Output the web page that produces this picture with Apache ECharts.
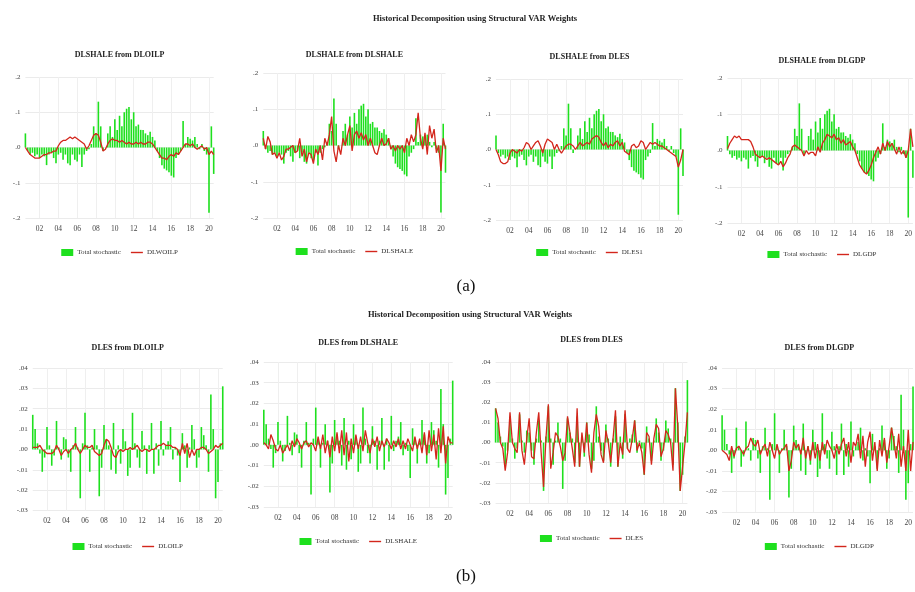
<!DOCTYPE html>
<html>
<head>
<meta charset="utf-8">
<script src="https://cdn.jsdelivr.net/npm/echarts/dist/echarts.min.js"></script>
<style>
html, body { margin: 0; padding: 0; background: #fff; }
#chart { width: 915px; height: 592px; }
</style>
</head>
<body>
<div id="chart"></div>
<script>
// quarterly observations 2000Q3 .. 2020Q3
var quarters = []
for (var k = 0; k < 81; k++) {
  var t = 2000 * 4 + 2 + k
  quarters.push(Math.floor(t / 4) + 'Q' + (t % 4 + 1))
}

// (a) DLSHALE : total stochastic and contributions
var stochA = [
  0.04, -0.01, -0.02, -0.015, -0.025, -0.02, -0.03, -0.02, -0.025, -0.05,
  -0.02, -0.015, -0.03, -0.045, -0.02, -0.015, -0.035, -0.02, -0.045, -0.05,
  -0.02, -0.035, -0.04, -0.02, -0.055, -0.02, -0.01, -0.005, 0.01, 0.06,
  0.04, 0.13, 0.06, -0.01, 0.0, 0.04, 0.06, 0.03, 0.08, 0.05,
  0.09, 0.06, 0.10, 0.11, 0.115, 0.08, 0.10, 0.06, 0.065, 0.05,
  0.05, 0.04, 0.035, 0.045, 0.03, 0.02, -0.01, -0.03, -0.05, -0.06,
  -0.065, -0.07, -0.08, -0.085, -0.03, -0.02, -0.01, 0.075, 0.01, 0.03,
  0.025, 0.02, 0.03, 0.01, -0.005, 0.01, -0.01, -0.02, -0.185, 0.06,
  -0.075
]
var oilA = [
  0.0, -0.01, -0.02, -0.025, -0.03, -0.03, -0.03, -0.025, -0.02, -0.02,
  -0.015, -0.015, -0.01, -0.01, 0.005, 0.015, 0.02, 0.02, 0.025, 0.03,
  0.025, 0.03, 0.025, 0.02, 0.015, 0.01, -0.005, 0.005, 0.02, 0.035,
  0.04, 0.035, 0.015, -0.01, -0.005, 0.01, 0.02, 0.025, 0.02, 0.02,
  0.015, 0.02, 0.015, 0.01, 0.015, 0.01, 0.01, 0.015, 0.01, 0.015,
  0.01, 0.01, 0.015, 0.015, 0.01, 0.0, -0.01, -0.02, -0.03, -0.03,
  -0.035, -0.025, -0.02, -0.025, -0.015, -0.02, -0.01, 0.0, 0.01, 0.01,
  0.005, 0.01, 0.0, -0.005, 0.0, 0.005, -0.005, 0.0, -0.02, -0.01,
  -0.02
]
var shaleA = [
  0.02, -0.01, 0.025, 0.01, -0.025, -0.02, -0.035, -0.02, -0.04, -0.03,
  -0.01, -0.01, -0.005, 0.0, -0.02, -0.015, 0.02, -0.03, -0.01, -0.045,
  -0.02, -0.025, -0.05, -0.01, -0.025, 0.0, -0.04, 0.02, 0.0, 0.03,
  0.08, -0.015, -0.045, 0.0, -0.025, 0.02, 0.0, 0.03, 0.055, -0.015,
  0.03, 0.04, 0.02, 0.035, 0.015, 0.03, 0.0, 0.02, 0.0, -0.02,
  -0.025, 0.0, 0.02, 0.0, 0.005, 0.02, -0.01, 0.0, -0.015, 0.0,
  -0.01, 0.0, -0.02, 0.02, 0.0, 0.03, 0.01, 0.03, 0.09, 0.02,
  -0.01, 0.035, -0.025, 0.055, 0.02, 0.045, -0.02, 0.0, -0.07, 0.02,
  -0.01
]
var esA = [
  0.0, -0.015, -0.035, -0.04, -0.04, -0.035, -0.01, 0.0, -0.005, -0.01,
  0.0, -0.005, 0.005, 0.02, 0.015, 0.0, 0.01, 0.02, 0.025, 0.01,
  -0.01, 0.015, 0.03, 0.025, 0.02, 0.0, 0.015, 0.0, -0.01, 0.0,
  0.01, 0.015, 0.015, 0.01, 0.0, 0.01, 0.02, 0.01, 0.015, 0.02,
  0.015, 0.03, 0.035, 0.04, 0.035, 0.02, 0.01, 0.02, 0.005, 0.015,
  0.01, 0.02, 0.025, 0.01, 0.02, -0.005, -0.01, -0.015, 0.01, 0.015,
  0.005, 0.01, 0.025, 0.02, 0.0, 0.01, 0.02, 0.015, 0.02, 0.015,
  0.01, 0.01, 0.005, 0.0, -0.005, -0.01, -0.015, -0.02, -0.05, -0.03,
  0.0
]
var gdpA = [
  0.005, 0.02, 0.03, 0.04, 0.035, 0.04, 0.03, 0.03, 0.03, 0.03,
  0.025, 0.01, -0.01, -0.015, -0.02, -0.015, -0.02, -0.025, -0.02, -0.025,
  -0.03, -0.035, -0.04, -0.03, -0.045, -0.035, -0.02, -0.01, 0.01, 0.015,
  0.01, 0.005, 0.0, -0.015, 0.0, -0.01, -0.005, -0.005, -0.015, 0.01,
  -0.005, 0.02, 0.03, 0.045, 0.04, 0.035, 0.045, 0.03, 0.035, 0.02,
  0.03, 0.015, 0.02, 0.025, 0.01, 0.0, -0.02, -0.04, -0.05, -0.06,
  -0.065, -0.055, -0.04, -0.02, -0.005, 0.01, -0.01, 0.02, 0.0, 0.025,
  0.01, 0.02, 0.005, -0.01, 0.01, -0.01, 0.0, -0.02, 0.0, 0.06,
  0.01
]

// (b) DLES : total stochastic and contributions
var stochB = [
  0.017, 0.01, 0.003, -0.002, -0.011, -0.004, 0.011, 0.002, -0.008, -0.003,
  0.014, 0.001, -0.005, 0.006, 0.005, -0.004, -0.011, 0.002, 0.011, 0.001,
  -0.024, 0.003, 0.018, 0.002, -0.011, 0.001, 0.01, 0.002, -0.023, -0.009,
  0.012, 0.005, 0.002, -0.01, 0.013, -0.012, 0.002, -0.007, 0.01, 0.004,
  -0.013, -0.009, 0.018, 0.003, -0.004, -0.009, 0.009, 0.002, -0.012, 0.002,
  0.013, -0.012, 0.003, -0.008, 0.014, -0.003, 0.002, 0.004, 0.011, -0.005,
  0.001, -0.003, -0.016, 0.008, 0.002, -0.009, 0.001, 0.012, 0.005, -0.009,
  -0.004, 0.011, 0.007, 0.002, -0.011, 0.027, 0.01, -0.024, -0.016, 0.003,
  0.031
]
var oilB = [
  0.001, 0.001, 0.001, 0.002, 0.0, -0.001, -0.002, -0.002, -0.002, -0.001,
  0.002, 0.0, -0.003, -0.001, 0.0, -0.002, 0.0, 0.001, 0.003, 0.0,
  -0.002, 0.0, 0.002, 0.001, 0.001, 0.002, -0.001, -0.002, -0.003, -0.002,
  0.002, 0.005, 0.004, 0.001, -0.003, -0.004, -0.001, 0.0, -0.001, 0.0,
  0.0, 0.001, 0.0, 0.001, 0.002, 0.0, -0.001, 0.0, 0.0, -0.001,
  0.0, 0.0, 0.001, 0.002, 0.002, 0.003, 0.002, 0.002, 0.002, 0.001,
  0.001, 0.0, -0.003, 0.003, -0.002, 0.003, -0.004, 0.0, -0.003, 0.0,
  0.0, 0.001, 0.001, 0.0, -0.002, -0.001, 0.0, 0.002, 0.001, 0.002,
  0.003
]
var shaleB = [
  0.001, 0.0, -0.002, 0.005, 0.002, -0.002, -0.003, 0.0, -0.004, -0.002,
  0.0, -0.003, 0.002, -0.001, 0.003, 0.001, -0.002, 0.001, 0.002, -0.001,
  0.001, 0.0, -0.003, 0.004, -0.002, 0.005, -0.004, 0.002, -0.006, 0.004,
  -0.003, 0.006, -0.004, 0.007, -0.005, 0.006, -0.008, 0.003, -0.004, 0.005,
  -0.002, 0.004, -0.003, 0.007, 0.001, -0.004, 0.003, -0.001, 0.004, -0.003,
  0.002, -0.001, 0.003, 0.001, -0.002, 0.002, -0.001, 0.003, -0.002, 0.002,
  -0.002, 0.003, 0.0, -0.003, 0.004, -0.002, 0.003, -0.004, 0.006, -0.005,
  0.007, -0.003, 0.005, -0.007, 0.008, -0.004, 0.009, -0.009, 0.004, 0.001,
  0.001
]
var esB = [
  0.017, 0.012, 0.0, -0.003, -0.014, -0.005, 0.015, 0.0, -0.003, -0.005,
  0.015, -0.004, -0.011, 0.002, 0.012, -0.007, -0.008, 0.005, 0.015, -0.005,
  -0.022, 0.002, 0.019, -0.013, -0.005, 0.005, 0.003, -0.002, -0.009, -0.005,
  0.013, 0.005, -0.003, -0.012, 0.017, -0.012, 0.005, -0.005, 0.01, -0.006,
  -0.015, 0.005, 0.014, 0.008, -0.006, -0.01, 0.006, 0.0, -0.01, 0.002,
  0.016, -0.012, 0.0, -0.006, 0.016, -0.003, -0.005, 0.002, 0.011, -0.004,
  0.0, -0.005, -0.016, 0.005, 0.003, -0.011, 0.002, 0.009, 0.007, -0.007,
  -0.003, 0.006, 0.004, 0.0, -0.014, 0.027, 0.008, -0.024, -0.012, 0.0,
  0.015
]
var gdpB = [
  0.0, -0.001, -0.002, -0.005, 0.002, -0.003, 0.001, 0.002, 0.0, -0.002,
  0.001, 0.002, 0.006, 0.003, 0.002, 0.005, -0.002, 0.001, 0.003, -0.003,
  0.004, 0.0, -0.004, 0.003, -0.002, 0.0, 0.001, 0.003, -0.01, -0.005,
  0.004, 0.001, 0.003, -0.002, 0.006, -0.004, 0.002, -0.005, 0.004, -0.004,
  0.003, -0.005, 0.004, -0.002, 0.005, 0.002, 0.0, -0.004, 0.003, -0.002,
  0.003, 0.006, -0.003, 0.004, -0.006, 0.004, 0.002, 0.008, -0.004, 0.007,
  -0.008, 0.004, 0.009, -0.005, 0.004, -0.01, 0.005, -0.003, 0.006, -0.006,
  0.002, 0.011, 0.004, -0.004, 0.008, -0.008, 0.002, -0.01, 0.01, -0.01,
  0.004
]

var yTicksA = [-0.2, -0.1, 0, 0.1, 0.2]
var yTicksB = [-0.03, -0.02, -0.01, 0, 0.01, 0.02, 0.03, 0.04]

var SERIF = '"Liberation Serif", "DejaVu Serif", serif'
var GREEN = '#1ee01e'
var RED = '#d3261c'

// panel layout: [left, top, width, height], title y, legend y
var panels = [
  { title: 'DLSHALE from DLOILP', name: 'DLWOILP', bars: stochA, line: oilA, row: 'a', box: [25.4, 77, 188.3, 141], ty: 55, ly: 253 },
  { title: 'DLSHALE from DLSHALE', name: 'DLSHALE', bars: stochA, line: shaleA, row: 'a', box: [263.3, 73, 182.2, 145], ty: 55, ly: 252 },
  { title: 'DLSHALE from DLES', name: 'DLES1', bars: stochA, line: esA, row: 'a', box: [496, 79, 187, 141], ty: 57, ly: 253 },
  { title: 'DLSHALE from DLGDP', name: 'DLGDP', bars: stochA, line: gdpA, row: 'a', box: [727.5, 78, 188.8, 145], ty: 61, ly: 255 },
  { title: 'DLES from DLOILP', name: 'DLOILP', bars: stochB, line: oilB, row: 'b', box: [32.75, 368, 190, 142.5], ty: 348, ly: 547 },
  { title: 'DLES from DLSHALE', name: 'DLSHALE', bars: stochB, line: shaleB, row: 'b', box: [263.8, 362, 188.9, 145], ty: 343, ly: 542 },
  { title: 'DLES from DLES', name: 'DLES', bars: stochB, line: esB, row: 'b', box: [495.6, 362, 191.8, 141], ty: 340, ly: 539 },
  { title: 'DLES from DLGDP', name: 'DLGDP', bars: stochB, line: gdpB, row: 'b', box: [722.1, 368, 194.4, 144], ty: 348, ly: 547 }
]

var measure = document.createElement('canvas').getContext('2d')
measure.font = '7px ' + SERIF
function textW(s) { return measure.measureText(s).width }

function yearTick(idx, val) {
  var y = +val.slice(0, 4)
  return val.slice(4) === 'Q1' && y % 2 === 0
}
function fmtY(dec) {
  return function (v) {
    if (Math.abs(v) < 1e-9) v = 0
    return v.toFixed(dec).replace(/^(-?)0\./, '$1.')
  }
}

var option = {
  animation: false,
  backgroundColor: '#fff',
  title: [
    { text: 'Historical Decomposition using Structural VAR Weights', left: 475, top: 14, textAlign: 'center', padding: 0,
      textStyle: { fontFamily: SERIF, fontSize: 8.5, fontWeight: 'bold', color: '#222' } },
    { text: 'Historical Decomposition using Structural VAR Weights', left: 470, top: 310, textAlign: 'center', padding: 0,
      textStyle: { fontFamily: SERIF, fontSize: 8.5, fontWeight: 'bold', color: '#222' } },
    { text: '(a)', left: 466, top: 278, textAlign: 'center', padding: 0,
      textStyle: { fontFamily: SERIF, fontSize: 17, fontWeight: 'normal', color: '#111' } },
    { text: '(b)', left: 466, top: 568, textAlign: 'center', padding: 0,
      textStyle: { fontFamily: SERIF, fontSize: 17, fontWeight: 'normal', color: '#111' } }
  ],
  legend: [],
  grid: [],
  xAxis: [],
  yAxis: [],
  series: []
}

panels.forEach(function (p, i) {
  var b = p.box
  var cx = b[0] + b[2] / 2
  var isA = p.row === 'a'
  var ticks = isA ? yTicksA : yTicksB

  option.title.push({
    text: p.title, left: cx, top: p.ty - 4.5, textAlign: 'center', padding: 0,
    textStyle: { fontFamily: SERIF, fontSize: 8, fontWeight: 'bold', color: '#222' }
  })

  var lw = 12 + 4 + textW('Total stochastic') + 10 + 12 + 4 + textW(p.name)
  option.legend.push({
    left: cx - lw / 2, top: p.ly - 4, padding: 0, itemGap: 10,
    itemWidth: 12, itemHeight: 7, selectedMode: false,
    data: [
      { name: 'Total stochastic', icon: 'rect' },
      { name: p.name, icon: 'path://M0,0h12v1.4h-12z' }
    ],
    textStyle: { fontFamily: SERIF, fontSize: 7, color: '#333', padding: [0, 0, 0, -1] }
  })

  option.grid.push({ left: b[0], top: b[1], width: b[2], height: b[3], containLabel: false })

  option.xAxis.push({
    type: 'category', gridIndex: i, data: quarters, boundaryGap: false,
    axisLine: { show: false }, axisTick: { show: false },
    axisLabel: {
      interval: yearTick, margin: 7,
      formatter: function (v) { return v.slice(2, 4) },
      fontFamily: SERIF, fontSize: 7.5, color: '#444'
    },
    splitLine: { show: true, interval: yearTick, lineStyle: { color: '#efefef', width: 1 } }
  })

  option.yAxis.push({
    type: 'value', gridIndex: i,
    min: ticks[0], max: ticks[ticks.length - 1], interval: isA ? 0.1 : 0.01,
    axisLine: { show: false }, axisTick: { show: false },
    axisLabel: { formatter: fmtY(isA ? 1 : 2), margin: 5, fontFamily: SERIF, fontSize: 7, color: '#444' },
    splitLine: { lineStyle: { color: '#ebebeb', width: 1 } }
  })

  option.series.push({
    name: 'Total stochastic', type: 'bar', xAxisIndex: i, yAxisIndex: i,
    data: p.bars, barWidth: 1.6, itemStyle: { color: GREEN }
  })
  option.series.push({
    name: p.name, type: 'line', xAxisIndex: i, yAxisIndex: i,
    data: p.line, symbol: 'none', z: 3,
    lineStyle: { color: RED, width: 1.3 }, itemStyle: { color: RED }
  })
})

var chart = echarts.init(document.getElementById('chart'))
chart.setOption(option)
</script>
</body>
</html>
